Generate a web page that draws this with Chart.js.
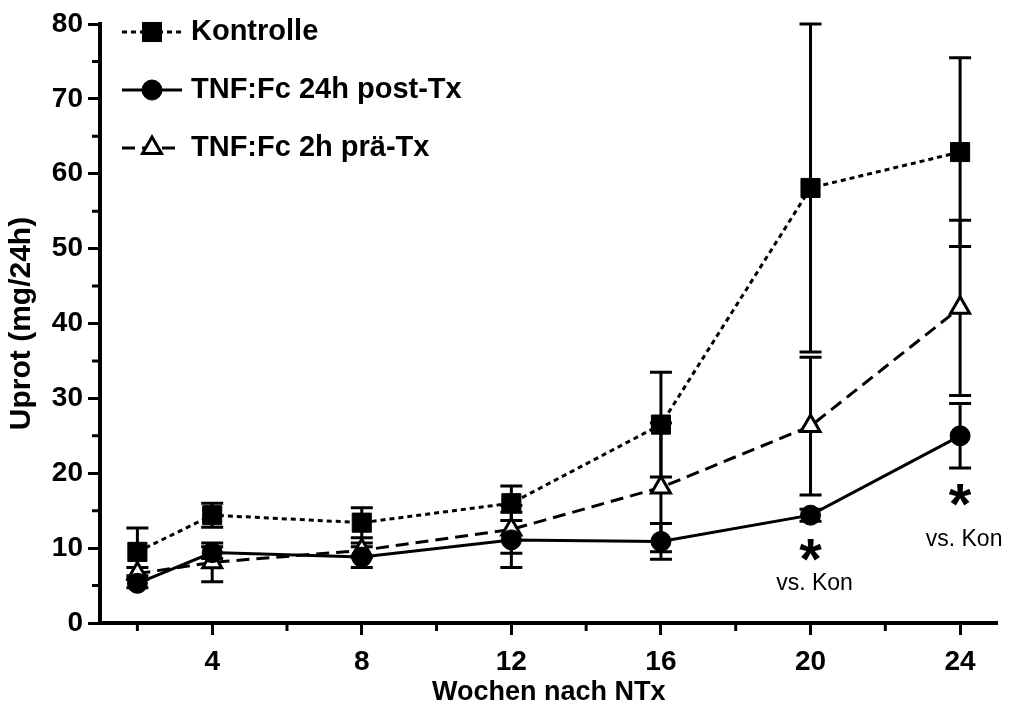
<!DOCTYPE html>
<html>
<head>
<meta charset="utf-8">
<script src="https://cdn.jsdelivr.net/npm/chart.js@4"></script>
<style>
  body { margin: 0; background: #fff; }
</style>
</head>
<body>
<canvas id="uprotChart" width="1012" height="711"></canvas>
<script>
// Wochen nach NTx
const weeks = [2, 4, 8, 12, 16, 20, 24];

// Uprot (mg/24h), Mittelwert und SEM
const kontrolle = [9.5, 14.4, 13.4, 16.0, 26.5, 58.1, 62.9];
const kontrolleErr = [3.2, 1.6, 2.0, 2.3, 7.0, 21.9, 12.6];
const postTx = [5.3, 9.4, 8.8, 11.1, 10.9, 14.4, 25.0];
const postTxErr = [0.6, 0.8, 1.4, 3.7, 2.4, 0.8, 4.3];
const praeTx = [6.6, 8.1, 9.7, 12.5, 18.1, 26.3, 42.1];
const praeTxErr = [0.8, 2.6, 1.0, 3.2, 8.6, 9.2, 11.7];

const seriesNames = ['Kontrolle', 'TNF:Fc 24h post-Tx', 'TNF:Fc 2h prä-Tx'];

// tick values (minor ones get no label)
const xTicks = [2, 4, 6, 8, 10, 12, 14, 16, 18, 20, 22, 24];
const yTicks = [0, 5, 10, 15, 20, 25, 30, 35, 40, 45, 50, 55, 60, 65, 70, 75, 80];

// significance marks: week, y of "*", y of label
const sigWeeks = [20, 24];
const sigStarY = [9.6, 17.0];
const sigLabelY = [5.3, 11.1];

const FONT = '"Liberation Sans", Arial, sans-serif';

const toPoints = (vals) => vals.map((v, i) => ({ x: weeks[i], y: v }));

const isMajorX = v => v % 4 === 0;
const isMajorY = v => v % 10 === 0;

// draws vertical SEM bars under the markers
const errorBars = {
  id: 'errorBars',
  beforeDatasetsDraw(chart) {
    const { ctx, scales: { x, y } } = chart;
    ctx.save();
    ctx.strokeStyle = '#000';
    ctx.lineWidth = 3;
    chart.data.datasets.forEach(ds => {
      ds.data.forEach((p, i) => {
        const e = ds.errors[i];
        const px = x.getPixelForValue(p.x);
        const top = y.getPixelForValue(p.y + e);
        const bot = y.getPixelForValue(p.y - e);
        ctx.beginPath();
        ctx.moveTo(px, top); ctx.lineTo(px, bot);
        ctx.moveTo(px - 11, top); ctx.lineTo(px + 11, top);
        ctx.moveTo(px - 11, bot); ctx.lineTo(px + 11, bot);
        ctx.stroke();
      });
    });
    ctx.restore();
  }
};

// shorter minor ticks on both axes
const minorTicks = {
  id: 'minorTicks',
  afterDraw(chart) {
    const { ctx, scales: { x, y } } = chart;
    ctx.save();
    ctx.strokeStyle = '#000';
    ctx.lineWidth = 3;
    ctx.beginPath();
    xTicks.filter(v => !isMajorX(v)).forEach(v => {
      const px = x.getPixelForValue(v);
      ctx.moveTo(px, x.top); ctx.lineTo(px, x.top + 8);
    });
    yTicks.filter(v => !isMajorY(v)).forEach(v => {
      const py = y.getPixelForValue(v);
      ctx.moveTo(y.right, py); ctx.lineTo(y.right - 8, py);
    });
    ctx.stroke();
    ctx.restore();
  }
};

// legend with line sample + marker, top left inside the plot
const lineLegend = {
  id: 'lineLegend',
  afterDraw(chart) {
    const { ctx, chartArea } = chart;
    const x0 = chartArea.left + 22;
    ctx.save();
    chart.data.datasets.forEach((ds, i) => {
      const yy = chartArea.top + 8 + i * 58;
      ctx.strokeStyle = '#000';
      ctx.lineWidth = 3;
      ctx.setLineDash(ds.borderDash || []);
      ctx.beginPath();
      ctx.moveTo(x0, yy); ctx.lineTo(x0 + 60, yy);
      ctx.stroke();
      ctx.setLineDash([]);
      ctx.fillStyle = ds.pointBackgroundColor;
      ctx.lineWidth = ds.pointBorderWidth;
      Chart.helpers.drawPoint(ctx, {
        pointStyle: ds.pointStyle, radius: ds.pointRadius, rotation: 0, borderWidth: ds.pointBorderWidth
      }, x0 + 30, yy);
      ctx.fillStyle = '#000';
      ctx.font = 'bold 29px ' + FONT;
      ctx.textBaseline = 'middle';
      ctx.textAlign = 'left';
      ctx.fillText(ds.label, x0 + 69, yy);
    });
    ctx.restore();
  }
};

// "*" and "vs. Kon" under the treated series
const sigMarks = {
  id: 'sigMarks',
  afterDraw(chart) {
    const { ctx, scales: { x, y } } = chart;
    ctx.save();
    ctx.fillStyle = '#000';
    ctx.textAlign = 'center';
    ctx.textBaseline = 'middle';
    sigWeeks.forEach((w, i) => {
      const px = x.getPixelForValue(w);
      ctx.font = 'bold 58px ' + FONT;
      ctx.fillText('*', px, y.getPixelForValue(sigStarY[i]) + 12);
      ctx.font = '23px ' + FONT;
      ctx.fillText('vs. Kon', px + 4, y.getPixelForValue(sigLabelY[i]));
    });
    ctx.restore();
  }
};

new Chart(document.getElementById('uprotChart'), {
  type: 'line',
  data: {
    datasets: [
      {
        label: seriesNames[0],
        data: toPoints(kontrolle),
        errors: kontrolleErr,
        borderColor: '#000',
        borderWidth: 3,
        borderDash: [5, 4],
        pointStyle: 'rect',
        pointRadius: 13.5,
        pointBackgroundColor: '#000',
        pointBorderColor: '#000',
        pointBorderWidth: 1
      },
      {
        label: seriesNames[1],
        data: toPoints(postTx),
        errors: postTxErr,
        borderColor: '#000',
        borderWidth: 3,
        pointStyle: 'circle',
        pointRadius: 10,
        pointBackgroundColor: '#000',
        pointBorderColor: '#000',
        pointBorderWidth: 1
      },
      {
        label: seriesNames[2],
        data: toPoints(praeTx),
        errors: praeTxErr,
        borderColor: '#000',
        borderWidth: 3,
        borderDash: [13, 7],
        pointStyle: 'triangle',
        pointRadius: 11,
        pointBackgroundColor: '#fff',
        pointBorderColor: '#000',
        pointBorderWidth: 3
      }
    ]
  },
  options: {
    responsive: false,
    animation: false,
    layout: { padding: { top: 24, right: 12, left: 0, bottom: 0 } },
    plugins: {
      legend: { display: false },
      tooltip: { enabled: false }
    },
    scales: {
      x: {
        type: 'linear',
        min: 1,
        max: 25,
        afterBuildTicks: s => { s.ticks = xTicks.map(v => ({ value: v })); },
        afterFit: s => { s.height = 88; },
        ticks: {
          autoSkip: false,
          maxRotation: 0,
          color: '#000',
          padding: 10,
          font: { family: FONT, size: 28, weight: 'bold' },
          callback: v => isMajorX(v) ? v : ''
        },
        grid: {
          drawOnChartArea: false,
          tickLength: 12,
          tickWidth: 3,
          tickColor: c => (c.tick && isMajorX(c.tick.value)) ? '#000' : 'rgba(0,0,0,0)'
        },
        border: { color: '#000', width: 4 },
        title: {
          display: true,
          text: 'Wochen nach NTx',
          color: '#000',
          font: { family: FONT, size: 27, weight: 'bold' },
          padding: { top: 0, bottom: 2 }
        }
      },
      y: {
        min: 0,
        max: 80,
        afterBuildTicks: s => { s.ticks = yTicks.map(v => ({ value: v })); },
        afterFit: s => { s.width = 100; },
        ticks: {
          autoSkip: false,
          color: '#000',
          padding: 5,
          font: { family: FONT, size: 28, weight: 'bold' },
          callback: v => isMajorY(v) ? v : ''
        },
        grid: {
          drawOnChartArea: false,
          tickLength: 12,
          tickWidth: 3,
          tickColor: c => (c.tick && isMajorY(c.tick.value)) ? '#000' : 'rgba(0,0,0,0)'
        },
        border: { color: '#000', width: 4 },
        title: {
          display: true,
          text: 'Uprot (mg/24h)',
          color: '#000',
          font: { family: FONT, size: 30, weight: 'bold' },
          padding: { top: 4, bottom: 0 }
        }
      }
    }
  },
  plugins: [errorBars, minorTicks, lineLegend, sigMarks]
});
</script>
</body>
</html>
